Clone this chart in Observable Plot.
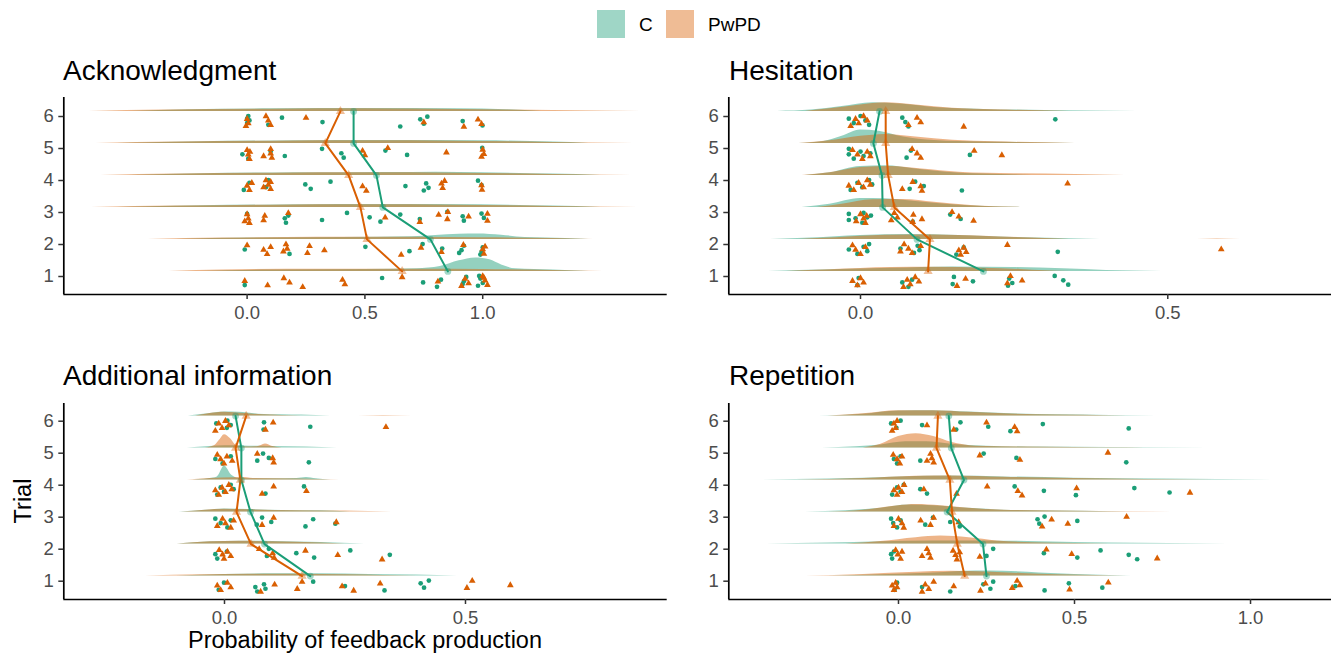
<!DOCTYPE html>
<html><head><meta charset="utf-8">
<script src="https://cdn.jsdelivr.net/npm/d3@7"></script>
<script src="https://cdn.jsdelivr.net/npm/@observablehq/plot@0.6"></script>
<style>
html,body{margin:0;padding:0;background:#fff;}
#root{position:relative;width:1332px;height:657px;overflow:hidden;font-family:"Liberation Sans",Arial,sans-serif;}
.panel{position:absolute;}
#overlay{position:absolute;left:0;top:0;}
</style></head><body><div id="root"></div>
<script>
// ---------------- DATA ----------------
const groups = ["C", "PwPD"];
const trials = [1, 2, 3, 4, 5, 6];
const panelNames = ["Acknowledgment", "Hesitation", "Additional information", "Repetition"];
const tickLabelsY = ["1", "2", "3", "4", "5", "6"];

// Means per trial (1..6)
const ackMeanC = [0.852, 0.778, 0.576, 0.549, 0.452, 0.452];
const ackMeanP = [0.658, 0.509, 0.481, 0.431, 0.332, 0.396];
const hesMeanC = [0.200, 0.092, 0.036, 0.035, 0.021, 0.031];
const hesMeanP = [0.110, 0.113, 0.055, 0.045, 0.041, 0.041];
const addMeanC = [0.178, 0.083, 0.054, 0.035, 0.035, 0.023];
const addMeanP = [0.161, 0.055, 0.025, 0.033, 0.023, 0.045];
const repMeanC = [0.250, 0.240, 0.138, 0.186, 0.150, 0.143];
const repMeanP = [0.188, 0.167, 0.152, 0.146, 0.108, 0.112];

// Participant-level values per trial (1..6)
const ackPtsC = [
  [-0.01, 0.573, 0.747, 0.806, 0.823, 0.915, 0.93, 0.92, 0.98, 0.99, 1.0, 0.985],
  [-0.01, 0.18, 0.502, 0.689, 0.745, 0.828, 0.9, 0.92, 0.91, 0.99, 1.0, 0.995],
  [0.0, 0.16, 0.165, 0.175, 0.318, 0.424, 0.52, 0.566, 0.65, 0.733, 0.85, 0.915, 0.92, 0.995, 1.005],
  [-0.014, 0.01, 0.08, 0.09, 0.247, 0.27, 0.354, 0.672, 0.75, 0.76, 0.77, 0.98, 0.995],
  [-0.02, 0.005, 0.1, 0.16, 0.318, 0.40, 0.41, 0.587, 0.679, 0.998],
  [0.0, 0.0, 0.005, 0.01, 0.09, 0.148, 0.32, 0.65, 0.735, 0.75, 0.765, 0.915, 0.999]
];
const ackPtsP = [
  [-0.01, 0.087, 0.156, 0.18, 0.236, 0.405, 0.415, 0.658, 0.81, 0.91, 0.925, 0.94, 1.0, 1.01, 1.02, 1.005],
  [0.0, 0.07, 0.085, 0.1, 0.154, 0.165, 0.17, 0.256, 0.265, 0.328, 0.654, 0.738, 0.825, 0.918, 1.0, 1.005, 1.01],
  [-0.01, 0.0, 0.005, 0.01, 0.075, 0.07, 0.175, 0.586, 0.733, 0.813, 0.85, 0.852, 0.94, 1.02, 1.02],
  [0.0, 0.01, 0.02, 0.07, 0.08, 0.09, 0.1, 0.1, 0.49, 0.506, 0.825, 0.83, 0.838, 0.995, 0.997],
  [0.0, 0.005, 0.01, 0.012, 0.07, 0.1, 0.1, 0.105, 0.49, 0.5, 0.597, 0.846, 0.995, 1.0, 1.005],
  [-0.005, 0.0, 0.005, 0.08, 0.09, 0.1, 0.25, 0.75, 0.92, 0.98, 0.995]
];
const hesPtsC = [
  [-0.005, -0.003, 0.068, 0.078, 0.084, 0.15, 0.152, 0.183, 0.24, 0.242, 0.247, 0.316, 0.33, 0.338],
  [-0.019, -0.005, 0.005, 0.011, 0.014, 0.065, 0.087, 0.093, 0.096, 0.156, 0.168, 0.321],
  [-0.019, -0.008, 0.003, 0.017, -0.019, 0.005, 0.011, 0.085, 0.146, 0.163],
  [-0.016, -0.005, 0.003, 0.014, 0.019, 0.08, 0.089, 0.103, 0.165],
  [-0.019, -0.011, 0.0, 0.005, -0.019, 0.016, 0.075, 0.082, 0.178],
  [-0.019, -0.011, 0.0, 0.008, 0.014, 0.068, 0.073, 0.078, 0.317]
];
const hesPtsP = [
  [-0.013, -0.005, 0.0, 0.005, 0.07, 0.076, 0.081, 0.089, 0.095, 0.157, 0.171, 0.239, 0.244, 0.263],
  [-0.013, -0.008, 0.0, 0.008, 0.065, 0.071, 0.078, 0.084, 0.098, 0.16, 0.163, 0.168, 0.172, 0.239, 0.587],
  [-0.007, 0.0, 0.005, 0.008, 0.01, 0.05, 0.055, 0.06, 0.085, 0.086, 0.1, 0.149, 0.16, 0.184],
  [-0.019, -0.011, -0.003, 0.005, 0.011, 0.016, 0.068, 0.085, 0.098, 0.1, 0.337],
  [-0.013, -0.005, 0.003, 0.011, 0.016, 0.084, 0.092, 0.098, 0.185, 0.23],
  [-0.016, -0.008, -0.003, 0.005, 0.011, 0.078, 0.092, 0.098, 0.168]
];
const addPtsC = [
  [-0.012, -0.001, 0.064, 0.068, 0.082, 0.085, 0.184, 0.25, 0.332, 0.407, 0.414, 0.424],
  [-0.019, -0.015, 0.005, 0.088, 0.092, 0.149, 0.186, 0.261, 0.343],
  [-0.019, -0.008, 0.006, 0.013, 0.067, 0.078, 0.097, 0.168, 0.184, 0.23],
  [-0.015, -0.008, -0.001, 0.013, 0.019, 0.085, 0.165],
  [-0.019, -0.004, 0.013, 0.068, 0.08, 0.092, 0.175],
  [-0.017, 0.005, 0.006, 0.013, 0.081, 0.082, 0.178]
];
const addPtsP = [
  [-0.015, -0.008, 0.006, 0.013, 0.075, 0.104, 0.151, 0.161, 0.244, 0.268, 0.323, 0.503, 0.514, 0.593],
  [-0.011, -0.004, -0.001, 0.006, 0.013, 0.072, 0.1, 0.103, 0.168, 0.235, 0.327],
  [-0.015, -0.004, 0.002, 0.013, 0.019, 0.078, 0.102, 0.232],
  [-0.019, -0.012, -0.005, 0.002, 0.009, 0.015, 0.078, 0.102, 0.17],
  [-0.015, -0.008, -0.001, 0.005, 0.016, 0.068, 0.1, 0.102],
  [-0.019, -0.012, -0.005, 0.002, 0.009, 0.085, 0.101, 0.335]
];
const repPtsC = [
  [-0.011, -0.004, 0.067, 0.147, 0.241, 0.261, 0.269, 0.332, 0.415, 0.484, 0.579],
  [-0.021, -0.018, -0.013, 0.25, 0.269, 0.413, 0.508, 0.574, 0.654, 0.678],
  [-0.021, -0.015, -0.004, 0.006, 0.076, 0.098, 0.147, 0.174, 0.395, 0.4, 0.415, 0.508],
  [-0.018, -0.004, 0.006, 0.015, 0.062, 0.081, 0.33, 0.413, 0.504, 0.67, 0.77],
  [-0.013, -0.004, 0.006, 0.062, 0.242, 0.335, 0.647],
  [-0.021, -0.006, 0.006, 0.067, 0.164, 0.176, 0.255, 0.318, 0.41, 0.654]
];
const repPtsP = [
  [-0.018, -0.013, -0.008, -0.004, 0.067, 0.076, 0.086, 0.1, 0.157, 0.233, 0.247, 0.323, 0.337, 0.345, 0.486, 0.596],
  [-0.008, -0.002, 0.006, 0.01, 0.067, 0.081, 0.086, 0.091, 0.155, 0.162, 0.166, 0.174, 0.231, 0.42, 0.492, 0.735],
  [-0.013, 0.0, 0.01, 0.015, 0.063, 0.091, 0.1, 0.171, 0.408, 0.435, 0.481, 0.648],
  [-0.013, -0.004, 0.0, 0.01, 0.016, 0.072, 0.165, 0.252, 0.339, 0.351, 0.506, 0.828],
  [-0.015, -0.004, 0.004, 0.01, 0.081, 0.091, 0.095, 0.1, 0.231, 0.345, 0.595],
  [-0.018, -0.013, -0.008, -0.004, 0.081, 0.157, 0.25, 0.33, 0.337]
];

// Density curves per trial (1..6): [value, density height in trial units]
const ackDensC = [
  [[-0.2,0],[0.1,0.04],[0.5,0.06],[0.72,0.08],[0.82,0.15],[0.9,0.33],[0.97,0.42],[1.03,0.36],[1.08,0.2],[1.14,0.08],[1.3,0.04],[1.45,0]],
  [[-0.3,0],[0.0,0.04],[0.4,0.06],[0.7,0.08],[0.8,0.12],[0.9,0.16],[0.98,0.17],[1.08,0.13],[1.18,0.06],[1.35,0.03],[1.45,0]],
  [[-0.55,0],[-0.2,0.05],[0.2,0.08],[0.6,0.09],[1.0,0.08],[1.3,0.04],[1.5,0]],
  [[-0.5,0],[-0.2,0.05],[0.2,0.08],[0.6,0.09],[0.8,0.1],[1.0,0.08],[1.3,0.04],[1.5,0]],
  [[-0.55,0],[-0.2,0.05],[0.2,0.08],[0.6,0.09],[1.0,0.08],[1.3,0.04],[1.45,0]],
  [[-0.5,0],[-0.25,0.05],[0.1,0.08],[0.5,0.09],[0.9,0.08],[1.1,0.05],[1.25,0]]
];
const ackDensP = [
  [[-0.33,0],[-0.1,0.04],[0.3,0.07],[0.7,0.07],[1.0,0.06],[1.3,0.03],[1.51,0]],
  [[-0.42,0],[-0.1,0.04],[0.3,0.07],[0.7,0.07],[1.0,0.05],[1.3,0.03],[1.47,0]],
  [[-0.66,0],[-0.3,0.04],[0.1,0.07],[0.5,0.08],[0.9,0.07],[1.3,0.03],[1.66,0]],
  [[-0.62,0],[-0.3,0.04],[0.1,0.07],[0.5,0.08],[0.9,0.07],[1.3,0.03],[1.63,0]],
  [[-0.64,0],[-0.3,0.04],[0.1,0.07],[0.5,0.08],[0.9,0.07],[1.3,0.03],[1.64,0]],
  [[-0.67,0],[-0.35,0.04],[0.1,0.07],[0.5,0.08],[0.9,0.06],[1.3,0.03],[1.67,0]]
];
const hesDensC = [
  [[-0.15,0],[-0.05,0.05],[0.05,0.1],[0.15,0.14],[0.25,0.12],[0.33,0.08],[0.4,0.03],[0.49,0]],
  [[-0.146,0],[-0.08,0.04],[0.0,0.12],[0.08,0.15],[0.16,0.12],[0.25,0.06],[0.39,0]],
  [[-0.095,0],[-0.05,0.1],[0.0,0.28],[0.04,0.27],[0.09,0.18],[0.15,0.08],[0.26,0]],
  [[-0.09,0],[-0.05,0.08],[0.0,0.28],[0.04,0.3],[0.09,0.2],[0.14,0.1],[0.2,0.04],[0.28,0]],
  [[-0.1,0],[-0.06,0.06],[-0.03,0.22],[0.0,0.42],[0.03,0.38],[0.07,0.2],[0.12,0.09],[0.2,0.04],[0.3,0.015],[0.35,0]],
  [[-0.135,0],[-0.08,0.04],[-0.03,0.15],[0.02,0.27],[0.07,0.22],[0.12,0.12],[0.2,0.06],[0.3,0.03],[0.45,0]]
];
const hesDensP = [
  [[-0.12,0],[-0.05,0.05],[0.05,0.12],[0.12,0.13],[0.2,0.1],[0.26,0.06],[0.3,0.02],[0.34,0]],
  [[-0.1,0],[-0.04,0.05],[0.04,0.13],[0.12,0.14],[0.2,0.1],[0.28,0.04],[0.34,0]],
  [[-0.07,0],[-0.03,0.1],[0.02,0.24],[0.07,0.25],[0.12,0.16],[0.18,0.06],[0.26,0]],
  [[-0.095,0],[-0.05,0.08],[0.0,0.25],[0.05,0.28],[0.1,0.2],[0.16,0.1],[0.25,0.05],[0.35,0.03],[0.43,0]],
  [[-0.1,0],[-0.05,0.08],[0.0,0.22],[0.04,0.28],[0.09,0.2],[0.15,0.1],[0.22,0.05],[0.35,0]],
  [[-0.09,0],[-0.05,0.08],[0.0,0.2],[0.04,0.27],[0.09,0.2],[0.15,0.1],[0.22,0.05],[0.34,0]]
];
const hesDensPExtra = [{trial: 2, pts: [[0.548,0],[0.58,0.015],[0.618,0]]}];
const addDensC = [
  [[-0.1,0],[0.0,0.05],[0.1,0.07],[0.2,0.07],[0.3,0.05],[0.4,0.03],[0.483,0]],
  [[-0.098,0],[-0.03,0.07],[0.03,0.09],[0.1,0.08],[0.2,0.05],[0.29,0]],
  [[-0.095,0],[-0.04,0.06],[0.0,0.1],[0.05,0.08],[0.12,0.05],[0.2,0.04],[0.26,0]],
  [[-0.077,0],[-0.03,0.05],[-0.015,0.1],[0.0,0.44],[0.015,0.15],[0.03,0.05],[0.1,0.04],[0.15,0.05],[0.17,0.08],[0.19,0.04],[0.22,0]],
  [[-0.077,0],[-0.03,0.05],[0.0,0.07],[0.05,0.06],[0.1,0.05],[0.17,0.03],[0.234,0]],
  [[-0.075,0],[-0.03,0.08],[0.0,0.13],[0.03,0.12],[0.07,0.06],[0.12,0.04],[0.16,0.03],[0.22,0]]
];
const addDensP = [
  [[-0.164,0],[-0.05,0.04],[0.05,0.06],[0.15,0.06],[0.25,0.04],[0.33,0.02],[0.4,0]],
  [[-0.098,0],[-0.03,0.07],[0.03,0.09],[0.1,0.07],[0.2,0.03],[0.25,0]],
  [[-0.09,0],[-0.04,0.06],[0.0,0.09],[0.05,0.07],[0.15,0.04],[0.25,0.03],[0.348,0]],
  [[-0.077,0],[-0.03,0.05],[0.02,0.07],[0.035,0.09],[0.06,0.05],[0.15,0.03],[0.24,0]],
  [[-0.04,0],[-0.02,0.08],[-0.01,0.25],[0.0,0.42],[0.012,0.3],[0.025,0.08],[0.045,0.03],[0.068,0.04],[0.085,0.13],[0.1,0.05],[0.12,0]],
  [[-0.06,0],[-0.03,0.08],[0.0,0.12],[0.04,0.08],[0.08,0.04],[0.12,0.02],[0.16,0]]
];
const addDensPExtra = [{trial: 6, pts: [[0.278,0],[0.33,0.015],[0.389,0]]}];
const repDensC = [
  [[-0.2,0],[-0.05,0.04],[0.1,0.1],[0.22,0.16],[0.3,0.15],[0.4,0.1],[0.5,0.05],[0.6,0.02],[0.725,0]],
  [[-0.373,0],[-0.2,0.03],[-0.05,0.07],[0.1,0.1],[0.25,0.1],[0.4,0.07],[0.6,0.03],[0.934,0]],
  [[-0.264,0],[-0.15,0.04],[-0.05,0.12],[0.03,0.22],[0.1,0.2],[0.2,0.12],[0.3,0.06],[0.45,0.03],[0.6,0.01],[0.7,0]],
  [[-0.406,0],[-0.2,0.03],[0.0,0.1],[0.15,0.13],[0.3,0.1],[0.5,0.06],[0.75,0.03],[1.15,0]],
  [[-0.217,0],[-0.12,0.04],[-0.05,0.1],[0.02,0.2],[0.08,0.2],[0.15,0.12],[0.25,0.06],[0.4,0.03],[0.6,0.02],[0.88,0]],
  [[-0.226,0],[-0.1,0.06],[0.0,0.16],[0.1,0.17],[0.2,0.13],[0.3,0.08],[0.45,0.04],[0.6,0.02],[0.863,0]]
];
const repDensP = [
  [[-0.264,0],[-0.1,0.05],[0.05,0.12],[0.15,0.15],[0.25,0.13],[0.35,0.08],[0.45,0.04],[0.6,0.01],[0.7,0]],
  [[-0.15,0],[-0.05,0.08],[0.05,0.2],[0.12,0.25],[0.2,0.2],[0.28,0.1],[0.38,0.04],[0.5,0.02],[0.6,0]],
  [[-0.2,0],[-0.1,0.06],[0.0,0.2],[0.05,0.24],[0.12,0.2],[0.2,0.12],[0.3,0.06],[0.45,0.03],[0.7,0.01],[0.858,0]],
  [[-0.29,0],[-0.1,0.05],[0.05,0.12],[0.15,0.13],[0.3,0.09],[0.5,0.05],[0.7,0.02],[0.9,0]],
  [[-0.1,0],[-0.05,0.12],[0.0,0.36],[0.05,0.45],[0.1,0.36],[0.15,0.18],[0.22,0.06],[0.35,0.03],[0.5,0.02],[0.65,0.01],[0.75,0]],
  [[-0.2,0],[-0.1,0.07],[0.0,0.17],[0.1,0.17],[0.2,0.12],[0.3,0.07],[0.45,0.03],[0.6,0.01],[0.7,0]]
];

const xTicksAck = [0, 0.5, 1.0];
const xTicksHes = [0, 0.5];
const xTicksAdd = [0, 0.5];
const xTicksRep = [0, 0.5, 1.0];

// ---------------- STYLE / LAYOUT ----------------
const colC = "#1b9e77", colP = "#d95f02";
const FONT = '"Liberation Sans", Arial, Helvetica, sans-serif';
const NUDGE = 0.16;      // density & mean baseline above trial
const PT_CENTER = -0.15; // point band centre relative to trial
const PT_HALF = 0.18;

const panels = [
  {name: panelNames[0], left: 0, top: 90, width: 668, ml: 63.3, mr: 1.3, height: 234, yDomain: [0.4375, 6.594], xDomain: [-0.778, 1.783], xTicks: xTicksAck,
   meanC: ackMeanC, meanP: ackMeanP, ptsC: ackPtsC, ptsP: ackPtsP, densC: ackDensC, densP: ackDensP, extraP: []},
  {name: panelNames[1], left: 666, top: 90, width: 666, ml: 62.3, mr: 1, height: 234, yDomain: [0.4375, 6.594], xDomain: [-0.2143, 0.7664], xTicks: xTicksHes,
   meanC: hesMeanC, meanP: hesMeanP, ptsC: hesPtsC, ptsP: hesPtsP, densC: hesDensC, densP: hesDensP, extraP: hesDensPExtra},
  {name: panelNames[2], left: 0, top: 396, width: 668, ml: 63.3, mr: 1.3, height: 233, yDomain: [0.428, 6.553], xDomain: [-0.3334, 0.9185], xTicks: xTicksAdd,
   meanC: addMeanC, meanP: addMeanP, ptsC: addPtsC, ptsP: addPtsP, densC: addDensC, densP: addDensP, extraP: addDensPExtra},
  {name: panelNames[3], left: 666, top: 396, width: 666, ml: 62.3, mr: 1, height: 233, yDomain: [0.428, 6.553], xDomain: [-0.482, 1.230], xTicks: xTicksRep,
   meanC: repMeanC, meanP: repMeanP, ptsC: repPtsC, ptsP: repPtsP, densC: repDensC, densP: repDensP, extraP: []}
];

function frac(x) { return x - Math.floor(x); }

function densRows(arr, group, extra) {
  const rows = [];
  arr.forEach((pts, ti) => pts.forEach(([v, h]) => rows.push({id: group + (ti + 1), trial: trials[ti], group, v, h})));
  (extra || []).forEach((e, k) => e.pts.forEach(([v, h]) => rows.push({id: group + "x" + k, trial: e.trial, group, v, h})));
  return rows;
}
function ptRows(arr, group) {
  const rows = [];
  const seed = group === "C" ? 0.17 : 0.53;
  arr.forEach((vals, ti) => vals.forEach((v, i) => {
    const j = frac(i * 0.6180339887 + ti * 0.311 + seed) * 2 - 1;
    rows.push({trial: trials[ti], group, v, y: trials[ti] + PT_CENTER + j * PT_HALF});
  }));
  return rows;
}
function meanRows(arr, group) {
  return arr.map((v, ti) => ({trial: trials[ti], group, v}));
}

const root = document.getElementById("root");

panels.forEach(cfg => {
  const dC = densRows(cfg.densC, "C");
  const dP = densRows(cfg.densP, "PwPD", cfg.extraP);
  const pC = ptRows(cfg.ptsC, "C");
  const pP = ptRows(cfg.ptsP, "PwPD");
  const mC = meanRows(cfg.meanC, "C");
  const mP = meanRows(cfg.meanP, "PwPD");
  const fmt = d3.format(".1f");
  const plot = Plot.plot({
    width: cfg.width, height: cfg.height,
    marginLeft: cfg.ml, marginRight: cfg.mr, marginTop: 7, marginBottom: 30,
    x: {domain: cfg.xDomain},
    y: {domain: cfg.yDomain},
    style: {fontFamily: FONT, fontSize: "18.5px", background: "transparent", overflow: "visible"},
    marks: [
      Plot.areaY(dC, {x: "v", y1: d => d.trial + NUDGE, y2: d => d.trial + NUDGE + d.h, z: "id", fill: colC, fillOpacity: 0.47, curve: "monotone-x"}),
      Plot.areaY(dP, {x: "v", y1: d => d.trial + NUDGE, y2: d => d.trial + NUDGE + d.h, z: "id", fill: colP, fillOpacity: 0.47, curve: "monotone-x"}),
      Plot.dot(pC, {x: "v", y: "y", r: 2.35, fill: colC, symbol: "circle"}),
      Plot.dot(pP, {x: "v", y: "y", r: 2.5, fill: colP, symbol: "triangle"}),
      Plot.line(mC, {x: "v", y: d => d.trial + NUDGE, stroke: colC, strokeWidth: 2}),
      Plot.line(mP, {x: "v", y: d => d.trial + NUDGE, stroke: colP, strokeWidth: 2}),
      Plot.dot(mC, {x: "v", y: d => d.trial + NUDGE, r: 3.4, fill: colC, fillOpacity: 0.4, symbol: "circle"}),
      Plot.dot(mP, {x: "v", y: d => d.trial + NUDGE, r: 3.4, fill: colP, fillOpacity: 0.4, symbol: "triangle"}),
      Plot.ruleX([cfg.xDomain[0]], {stroke: "#000", strokeWidth: 1.7}),
      Plot.ruleY([cfg.yDomain[0]], {stroke: "#000", strokeWidth: 1.7}),
      Plot.axisX({ticks: cfg.xTicks, tickFormat: fmt, tickSize: 5, tickPadding: 6, fontSize: 18.5, stroke: "#333", strokeWidth: 1.5, fill: "#4d4d4d", label: null}),
      Plot.axisY({ticks: trials, tickFormat: (d) => tickLabelsY[trials.indexOf(d)], tickSize: 5, tickPadding: 5, fontSize: 18.5, stroke: "#333", strokeWidth: 1.5, fill: "#4d4d4d", label: null})
    ]
  });
  plot.classList.add("panel");
  plot.style.left = cfg.left + "px";
  plot.style.top = cfg.top + "px";
  root.appendChild(plot);
});

// ---------------- OVERLAY TEXT / LEGEND ----------------
const ov = d3.select(root).append("svg").attr("id", "overlay").attr("width", 1332).attr("height", 657)
  .style("font-family", FONT);
const titlePos = [[63, 80], [729, 80], [63, 385], [729, 385]];
panelNames.forEach((n, i) => {
  ov.append("text").attr("x", titlePos[i][0]).attr("y", titlePos[i][1]).attr("font-size", 28).attr("fill", "#000").text(n);
});
ov.append("text").attr("x", 365).attr("y", 648).attr("text-anchor", "middle").attr("font-size", 23.5).attr("fill", "#000").text("Probability of feedback production");
ov.append("text").attr("transform", "translate(31,501) rotate(-90)").attr("text-anchor", "middle").attr("font-size", 23.5).attr("fill", "#000").text("Trial");
const legendPos = [[597, 639], [666, 708]];
groups.forEach((g, i) => {
  ov.append("rect").attr("x", legendPos[i][0]).attr("y", 10).attr("width", 28).attr("height", 28)
    .attr("fill", i === 0 ? colC : colP).attr("fill-opacity", 0.42);
  ov.append("text").attr("x", legendPos[i][1]).attr("y", 31).attr("font-size", 19).attr("fill", "#000").text(g);
});
</script></body></html>
